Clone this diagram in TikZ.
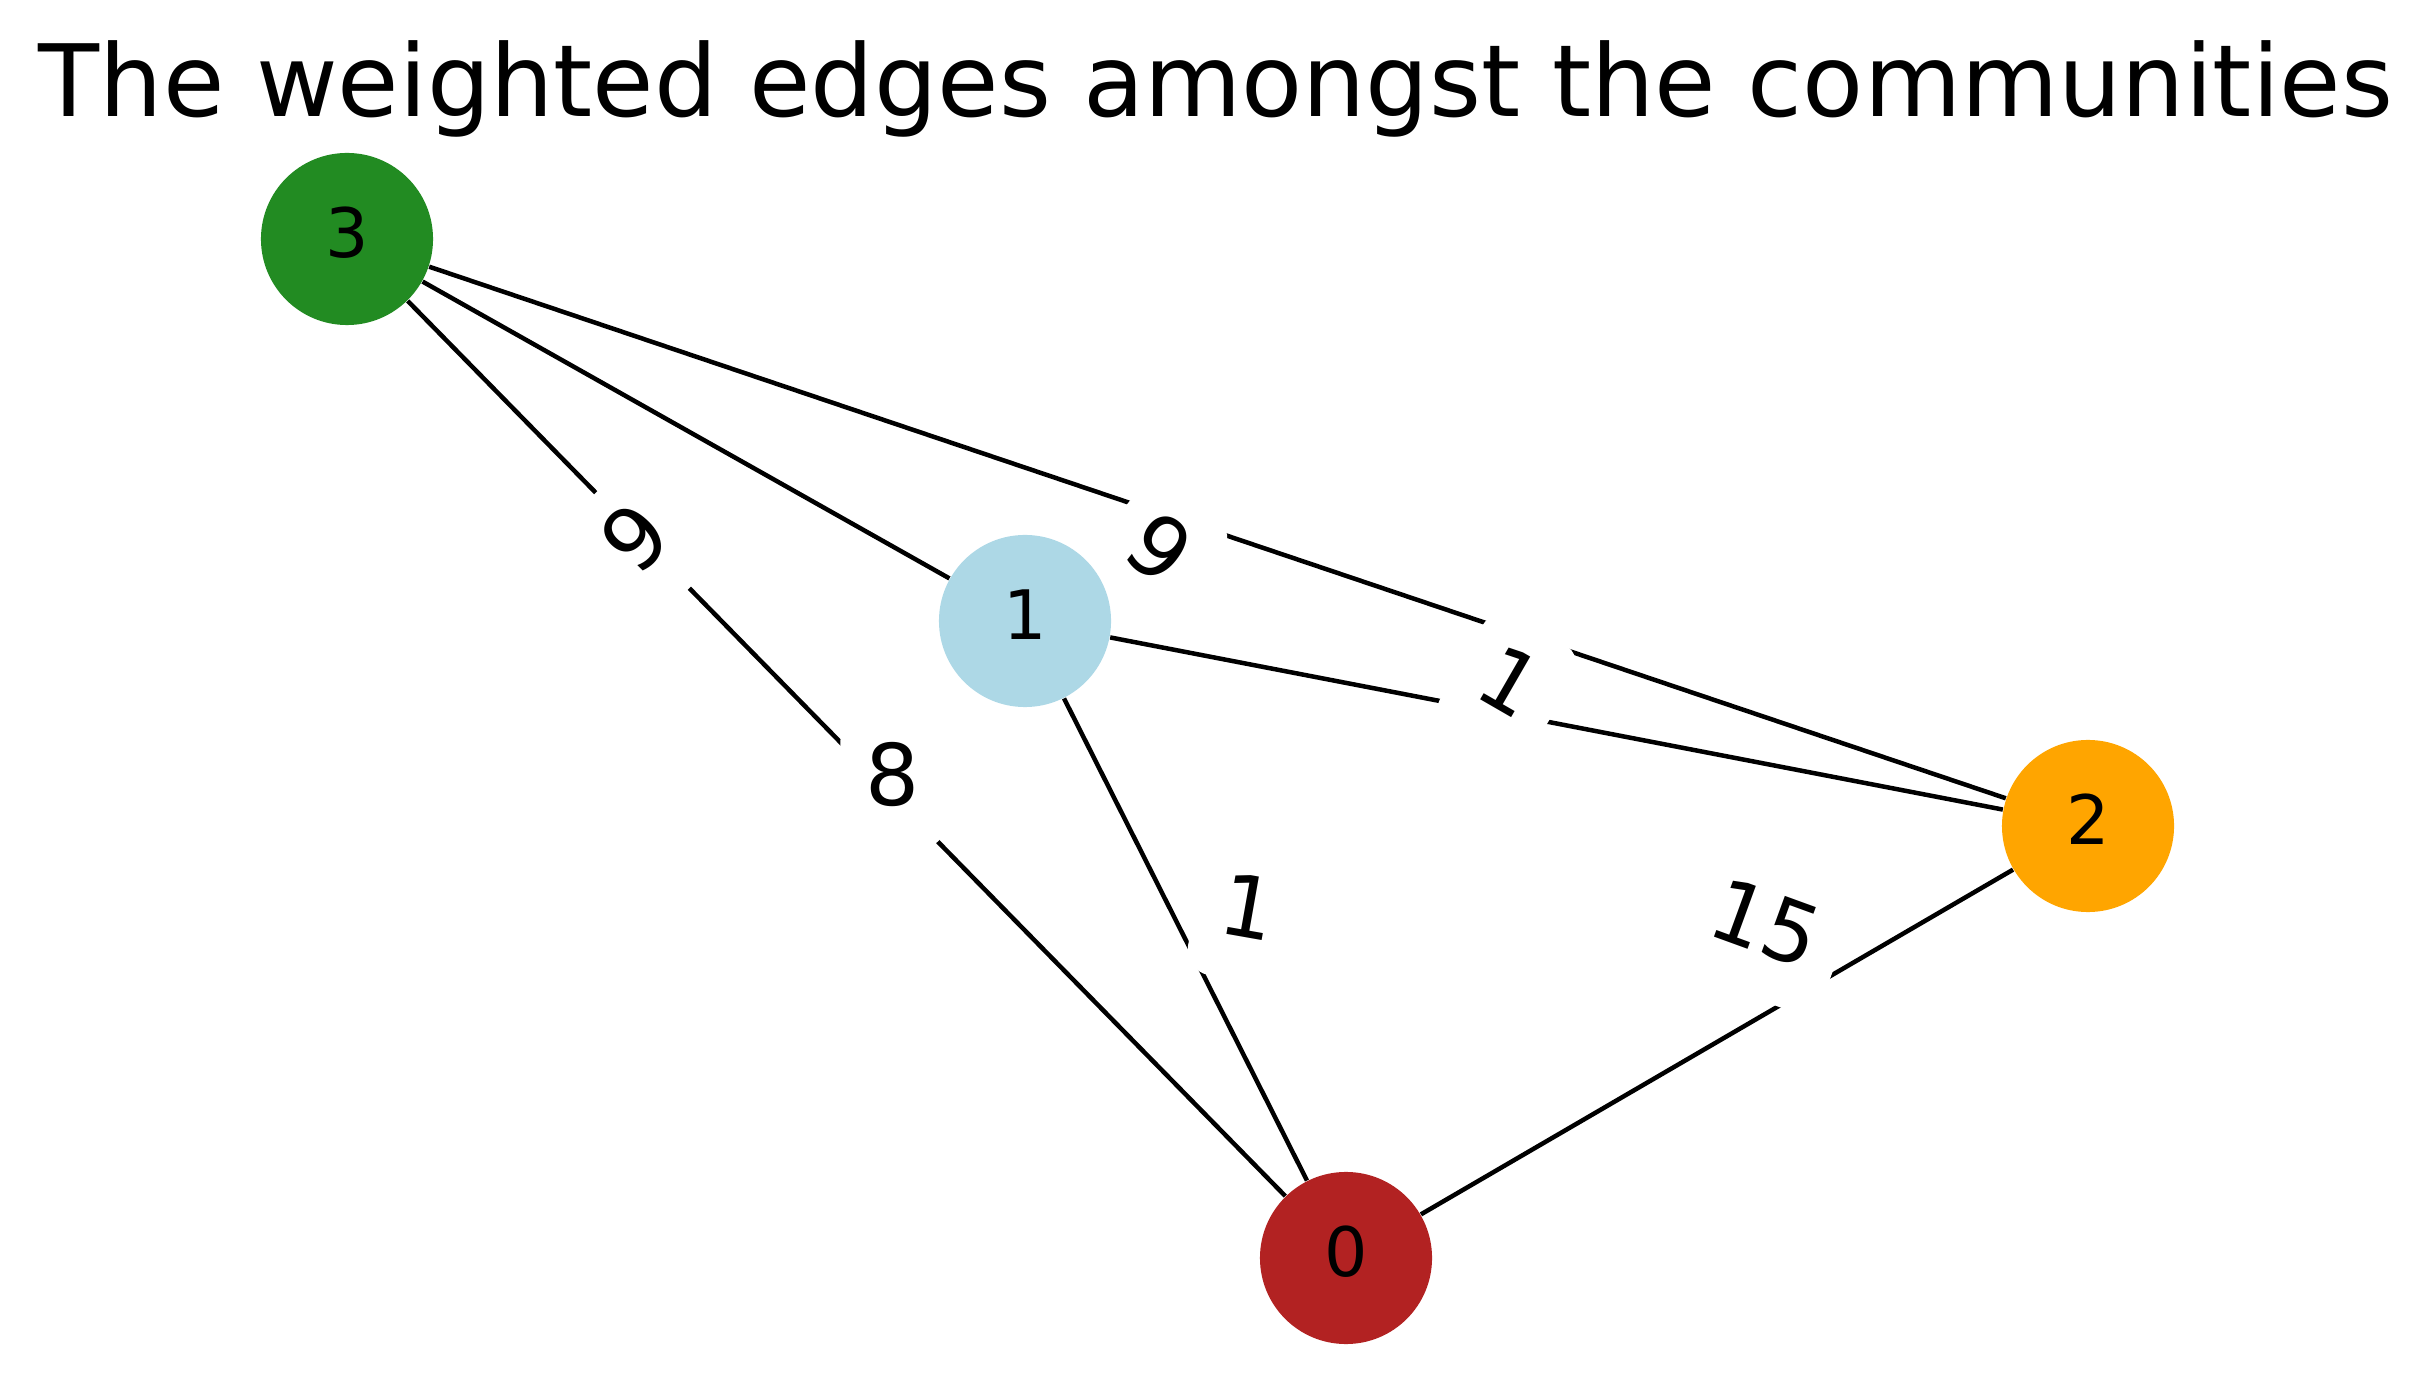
\documentclass[tikz,border=0pt]{standalone}
\usepackage{fontspec}
\setmainfont{DejaVu Sans}
\usepackage{tikz}
\usetikzlibrary{backgrounds}

\definecolor{firebrick}{RGB}{178,34,34}
\definecolor{lightblue}{RGB}{173,216,230}
\definecolor{orange}{RGB}{255,165,0}
\definecolor{forestgreen}{RGB}{34,139,34}

\begin{document}
\begin{tikzpicture}[x=0.01cm,y=-0.01cm,
  comm/.style={shape=circle,minimum size=1.72cm,inner sep=0pt,text height=0.517cm,text depth=0.143cm,font=\fontsize{19.4pt}{23pt}\selectfont},
  weight/.style={fill=white,rounded corners=0.255cm,inner sep=0.255cm,text height=0.646cm,text depth=0.179cm,font=\fontsize{24.2pt}{29pt}\selectfont},
  link/.style={draw=black,line width=0.045cm}]

  \useasboundingbox (0,0) rectangle (2436,1389);

  % Title
  \node[anchor=base,font=\fontsize{28.4pt}{34pt}\selectfont] (title) at (1216,117) {The weighted edges amongst the communities};

  % Specification of nodes (position, colour)
  \node[comm,fill=firebrick] (c0) at (1346,1258) {0};
  \node[comm,fill=lightblue] (c1) at (1025,621) {1};
  \node[comm,fill=orange] (c2) at (2088,826) {2};
  \node[comm,fill=forestgreen] (c3) at (347,239) {3};

  \begin{scope}[on background layer]
    \draw[link] (c3) to (c1);
    \draw[link] (c3) to (c2);
    \draw[link] (c3) to (c0);
    \draw[link] (c1) to (c2);
    \draw[link] (c1) to (c0);
    \draw[link] (c2) to (c0);

    % edge weights
    \node[weight,rotate=45] (w9a) at (640,543) {9};
    \node[weight] (w8) at (893,782) {8};
    \node[weight,rotate=-38] (w9b) at (1155,554) {9};
    \node[weight,rotate=-30] (w1a) at (1507,688) {1};
    \node[weight,rotate=-10] (w1b) at (1247,914) {1};
    \node[weight,rotate=-20] (w15) at (1763,930) {15};
  \end{scope}

\end{tikzpicture}
\end{document}
